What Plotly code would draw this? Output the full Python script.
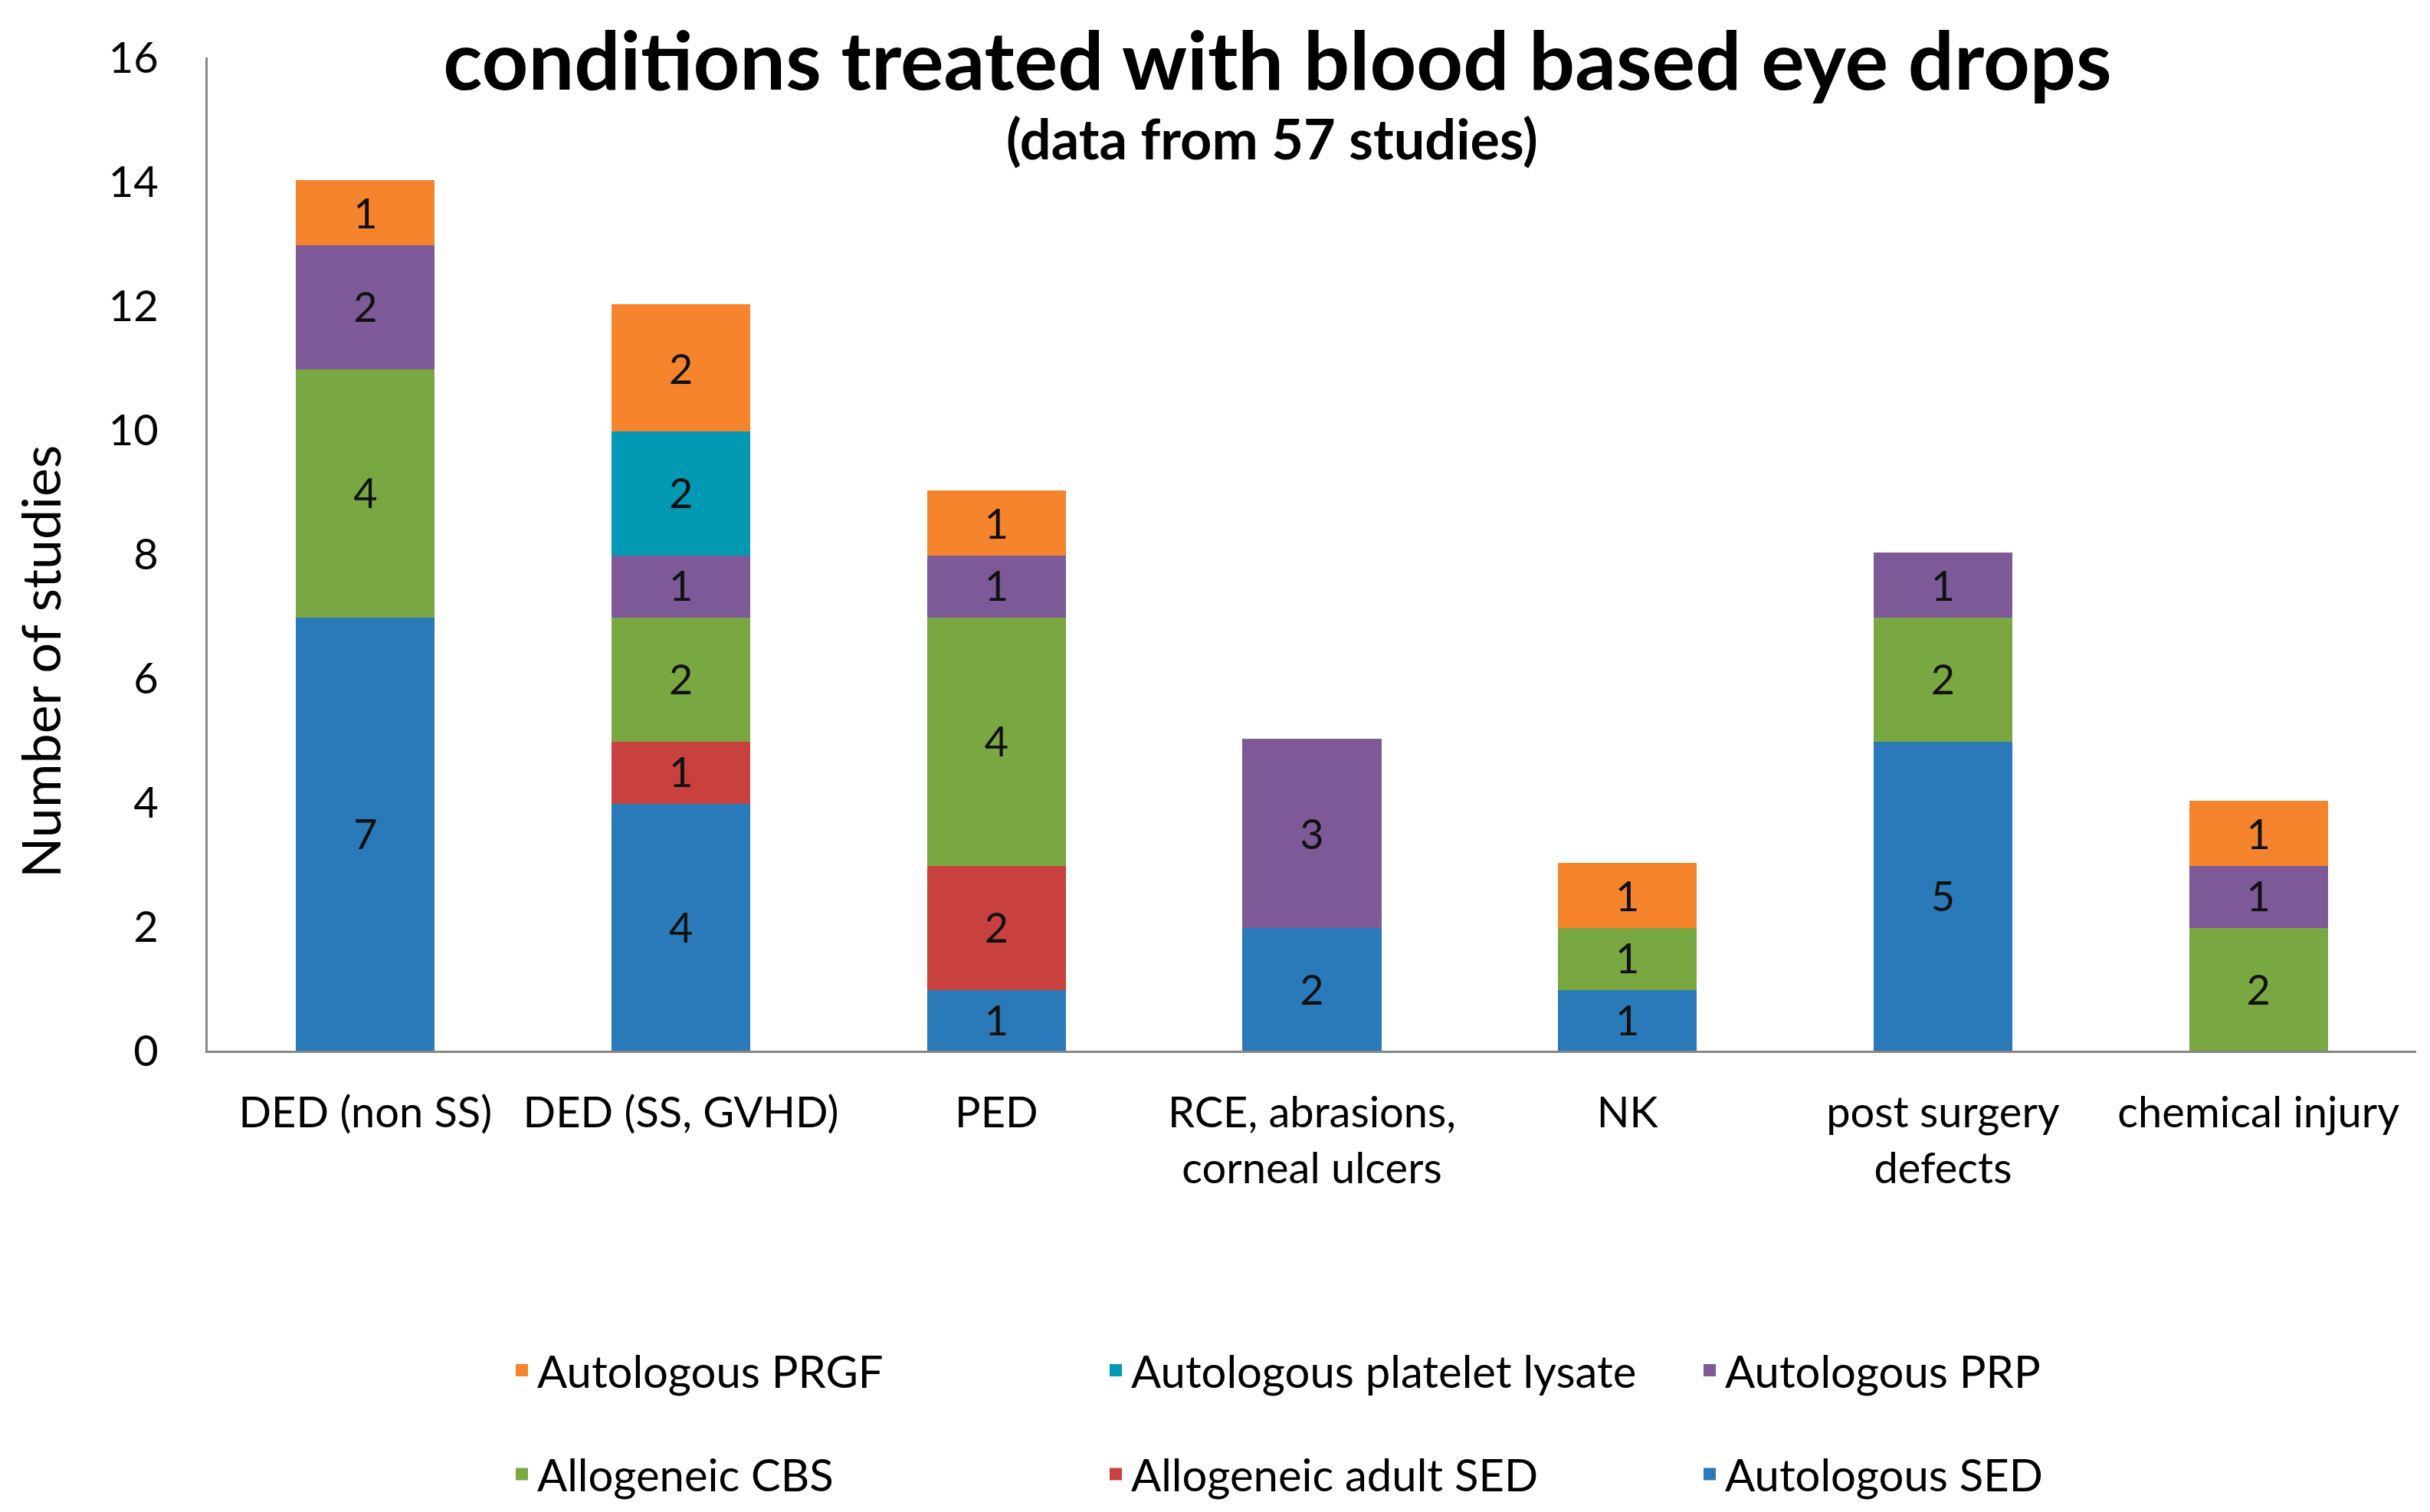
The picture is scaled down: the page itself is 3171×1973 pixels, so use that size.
import plotly.graph_objects as go

categories = ["DED (non SS)", "DED (SS, GVHD)", "PED", "RCE, abrasions,<br>corneal ulcers",
              "NK", "post surgery<br>defects", "chemical injury"]

autologous_sed = [7, 4, 1, 2, 1, 5, None]
allogeneic_adult_sed = [None, 1, 2, None, None, None, None]
allogeneic_cbs = [4, 2, 4, None, 1, 2, 2]
autologous_prp = [2, 1, 1, 3, None, 1, 1]
autologous_platelet_lysate = [None, 2, None, None, None, None, None]
autologous_prgf = [1, 2, 1, None, 1, None, 1]

series = [
    ("Autologous SED", autologous_sed, "#2A7AB9", "legend2"),
    ("Allogeneic adult SED", allogeneic_adult_sed, "#C8413F", "legend2"),
    ("Allogeneic CBS", allogeneic_cbs, "#79A843", "legend2"),
    ("Autologous PRP", autologous_prp, "#7D5A97", "legend"),
    ("Autologous platelet lysate", autologous_platelet_lysate, "#0199B3", "legend"),
    ("Autologous PRGF", autologous_prgf, "#F5842C", "legend"),
]

FONT = "Lato"
W, H = 3171, 1973
L, R, T, B = 263, 26, 67, 605
PW, PH = W - L - R, H - T - B

fig = go.Figure()
for name, vals, color, leg in series:
    fig.add_trace(go.Bar(
        x=categories, y=vals, name=name,
        marker=dict(color=color, line=dict(width=4, color=color)),
        text=[str(v) if v else "" for v in vals], textposition="inside",
        insidetextanchor="middle", textangle=0, constraintext="none",
        insidetextfont=dict(family=FONT, size=54, color="#111111"),
        legend=leg,
    ))

legend_common = dict(orientation="h", xanchor="left", yanchor="middle",
                     traceorder="reversed", entrywidth=730, entrywidthmode="pixels",
                     font=dict(family=FONT, size=58, color="#000000"),
                     itemwidth=30, bgcolor="rgba(0,0,0,0)")

fig.update_layout(
    barmode="stack", bargap=0.57,
    width=W, height=H,
    paper_bgcolor="white", plot_bgcolor="white",
    margin=dict(l=L, r=R, t=T, b=B),
    font=dict(family=FONT, size=56, color="#000000"),
    title=dict(text="<b>conditions treated with blood based eye drops</b>",
               font=dict(family=FONT, size=106, color="#000000"),
               x=1659 / W, xanchor="center", xref="container",
               y=1 - 72 / H, yanchor="middle", yref="container"),
    showlegend=True,
    legend=dict(x=(653 - L) / PW, y=(H - B - 1787) / PH, **legend_common),
    legend2=dict(x=(653 - L) / PW, y=(H - B - 1923) / PH, **legend_common),
)

fig.update_xaxes(showline=True, linecolor="#868686", linewidth=3, ticks="",
                 tickfont=dict(family=FONT, size=56, color="#000000"),
                 ticklabelstandoff=30, showgrid=False)
fig.update_yaxes(range=[0, 16], dtick=2, showline=True, linecolor="#868686", linewidth=3,
                 ticks="", showgrid=False, zeroline=False,
                 tickfont=dict(family=FONT, size=56, color="#000000"),
                 ticklabelstandoff=50)

fig.add_annotation(text="<b>(data from 57 studies)</b>", xref="paper", yref="paper",
                   x=(1652 - L) / PW, y=(H - B - 172) / PH, xanchor="center", yanchor="middle",
                   showarrow=False, font=dict(family=FONT, size=72, color="#000000"))
fig.add_annotation(text="Number of studies", xref="paper", yref="paper",
                   x=(44 - L) / PW, y=(H - B - 859) / PH, xanchor="center", yanchor="middle",
                   textangle=-90, showarrow=False,
                   font=dict(family=FONT, size=70, color="#000000"))

fig.write_html("out.html")
